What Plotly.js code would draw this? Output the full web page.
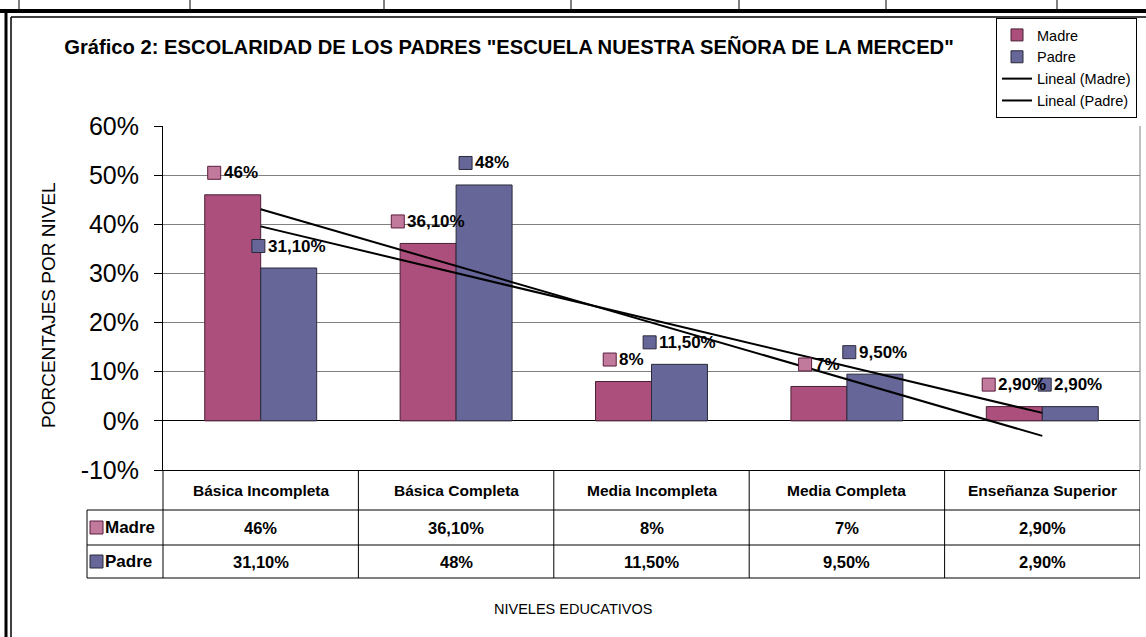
<!DOCTYPE html>
<html>
<head>
<meta charset="utf-8">
<script src="https://cdn.plot.ly/plotly-3.0.1.min.js"></script>
<style>html,body{margin:0;padding:0;background:#fff;}#chart{width:1146px;height:637px;}</style>
</head>
<body>
<div id="chart"></div>
<script>
// ---- data ----
const categorias = ['Básica Incompleta', 'Básica Completa', 'Media Incompleta', 'Media Completa', 'Enseñanza Superior'];
const madre = [46, 36.1, 8, 7, 2.9];
const padre = [31.1, 48, 11.5, 9.5, 2.9];
const serieNombres = ['Madre', 'Padre'];
const tendNombres = ['Lineal (Madre)', 'Lineal (Padre)'];
const yTickVals = [-10, 0, 10, 20, 30, 40, 50, 60];
const yTickText = ['-10%', '0%', '10%', '20%', '30%', '40%', '50%', '60%'];
const titulo = 'Gráfico 2: ESCOLARIDAD DE LOS PADRES "ESCUELA NUESTRA SEÑORA DE LA MERCED"';
const tituloY = 'PORCENTAJES POR NIVEL';
const tituloX = 'NIVELES EDUCATIVOS';

// ---- styles / geometry ----
const W = 1146, H = 637;
const PL = 163, PR = 1140, PT = 126, PB = 470;
const colMadre = '#AC4F7C', colPadre = '#666699';
const keyMadre = '#C27A9C', keyMadreLine = '#5a1d3c';
const keyPadre = '#666699', keyPadreLine = '#2a2a3a';
const SANS = '"Liberation Sans", Arial, sans-serif';
const BARGAP = 0.427;
const barW = (1 - BARGAP) / 2;
const SQ = 13, SQGAP = 3, LBL = 17, LIFT = 22;

const xp = x => (x - PL) / (PR - PL);
const yp = y => (PB - y) / (PB - PT);
const fmt = v => (Number.isInteger(v) ? String(v) : v.toFixed(2).replace('.', ',')) + '%';

const ctx = document.createElement('canvas').getContext('2d');
function textW(s, size) { ctx.font = 'bold ' + size + 'px "Liberation Sans", Arial, sans-serif'; return ctx.measureText(s).width; }

const xs = categorias.map((c, i) => i);

function linfit(vals) {
  const n = vals.length;
  const mx = xs.reduce((a, b) => a + b, 0) / n;
  const my = vals.reduce((a, b) => a + b, 0) / n;
  let sxy = 0, sxx = 0;
  xs.forEach((x, i) => { sxy += (x - mx) * (vals[i] - my); sxx += (x - mx) * (x - mx); });
  const m = sxy / sxx, b = my - m * mx;
  return xs.map(x => m * x + b);
}

const traces = [
  {type: 'bar', name: serieNombres[0], x: xs, y: madre, marker: {color: colMadre, line: {color: '#4a2035', width: 1}}, hoverinfo: 'skip'},
  {type: 'bar', name: serieNombres[1], x: xs, y: padre, marker: {color: colPadre, line: {color: '#2a2a3a', width: 1}}, hoverinfo: 'skip'},
  {type: 'scatter', mode: 'lines', name: tendNombres[0], x: xs, y: linfit(madre), line: {color: '#000', width: 2}, hoverinfo: 'skip'},
  {type: 'scatter', mode: 'lines', name: tendNombres[1], x: xs, y: linfit(padre), line: {color: '#000', width: 2}, hoverinfo: 'skip'}
];

// ---- shapes ----
const shapes = [];
function line(x0, y0, x1, y1, color, width, xref) {
  shapes.push({type: 'line', xref: xref || 'paper', yref: 'paper', x0: x0, x1: x1, y0: y0, y1: y1,
    line: {color: color, width: width}});
}
line(1, 0, 1, 1, '#808080', 1);
const rowY = [510, 545, 578];
rowY.forEach(y => line(xp(87), yp(y), 1, yp(y), '#000', 1));
line(xp(87), yp(510), xp(87), yp(578), '#000', 1);
line(0, 0, 0, yp(578), '#000', 1);
xs.forEach(i => line(i + 0.5, 0, i + 0.5, yp(578), '#000', 1, 'x'));
line(xp(0), yp(11), xp(W), yp(11), '#000', 4);
[19, 190, 384, 571, 739, 886, 1057].forEach(x => line(xp(x), yp(0), xp(x), yp(9), '#000', 1));
line(xp(6), yp(10), xp(6), yp(H), '#000', 3);
line(xp(11), yp(17), xp(11), yp(H), '#000', 1.5);
line(xp(11), yp(17), xp(W), yp(17), '#000', 1.5);

// ---- annotations ----
const ann = [];
const f = (s) => ({family: SANS, size: s, color: '#000'});

function dataLabel(xc, v, fill, stroke) {
  const s = fmt(v);
  const tw = textW(s, LBL);
  const left = -(SQ + SQGAP + tw) / 2;
  shapes.push({type: 'rect', xref: 'x', yref: 'y', xsizemode: 'pixel', ysizemode: 'pixel',
    xanchor: xc, yanchor: v, x0: left, x1: left + SQ, y0: LIFT - SQ / 2, y1: LIFT + SQ / 2,
    fillcolor: fill, line: {color: stroke, width: 1}, layer: 'above'});
  ann.push({xref: 'x', yref: 'y', x: xc, y: v, xanchor: 'left', yanchor: 'middle', xshift: left + SQ + SQGAP - 2, yshift: LIFT,
    text: '<b>' + s + '</b>', showarrow: false, font: f(LBL)});
}

categorias.forEach((c, i) => {
  ann.push({xref: 'x', yref: 'paper', x: i, y: yp(490), xanchor: 'center', yanchor: 'middle', text: '<b>' + c + '</b>', showarrow: false, font: f(15.5)});
  ann.push({xref: 'x', yref: 'paper', x: i, y: yp(527.5), xanchor: 'center', yanchor: 'middle', text: '<b>' + fmt(madre[i]) + '</b>', showarrow: false, font: f(16.5)});
  ann.push({xref: 'x', yref: 'paper', x: i, y: yp(561.5), xanchor: 'center', yanchor: 'middle', text: '<b>' + fmt(padre[i]) + '</b>', showarrow: false, font: f(16.5)});
  dataLabel(i - barW / 2, madre[i], keyMadre, keyMadreLine);
  dataLabel(i + barW / 2, padre[i], keyPadre, keyPadreLine);
});

// row keys of the table
[[527.5, keyMadre, keyMadreLine, serieNombres[0]], [561.5, keyPadre, keyPadreLine, serieNombres[1]]].forEach(r => {
  shapes.push({type: 'rect', xref: 'paper', yref: 'paper', x0: xp(90), x1: xp(103), y0: yp(r[0] + 6.5), y1: yp(r[0] - 6.5),
    fillcolor: r[1], line: {color: r[2], width: 1}});
  ann.push({xref: 'paper', yref: 'paper', x: xp(105), y: yp(r[0]), xanchor: 'left', yanchor: 'middle', xshift: -2, text: '<b>' + r[3] + '</b>',
    showarrow: false, font: f(17)});
});

ann.push({xref: 'paper', yref: 'paper', x: xp(573), y: yp(609), xanchor: 'center', yanchor: 'middle', text: tituloX, showarrow: false, font: f(14.5)});
ann.push({xref: 'paper', yref: 'paper', x: xp(48), y: yp(305), xanchor: 'center', yanchor: 'middle', text: tituloY, textangle: -90, showarrow: false, font: f(19)});

const layout = {
  width: W, height: H,
  margin: {l: PL, r: W - PR, t: PT, b: H - PB, pad: 0},
  paper_bgcolor: '#fff', plot_bgcolor: '#fff',
  title: {text: '<b>' + titulo + '</b>', xref: 'container', yref: 'container', x: 509 / W, y: 1 - 47 / H,
    xanchor: 'center', yanchor: 'middle', font: f(20.2)},
  barmode: 'group', bargap: BARGAP, bargroupgap: 0,
  showlegend: true,
  legend: {x: xp(996), y: yp(18), xanchor: 'left', yanchor: 'top', bgcolor: '#fff', bordercolor: '#000', borderwidth: 1,
    font: f(14.5), itemwidth: 30, tracegroupgap: 0, traceorder: 'normal'},
  xaxis: {range: [-0.5, 4.5], showticklabels: false, showgrid: false, zeroline: false, showline: true,
    linecolor: '#000', linewidth: 1, ticks: '', fixedrange: true},
  yaxis: {range: [-10, 60], tickvals: yTickVals, ticktext: yTickText, showgrid: true, gridcolor: '#808080', gridwidth: 1,
    zeroline: true, zerolinecolor: '#000', zerolinewidth: 1, showline: true, linecolor: '#000', linewidth: 1,
    ticks: 'outside', ticklen: 8, tickcolor: '#000', ticklabelstandoff: 10,
    tickfont: {family: SANS, size: 25, color: '#000'}, fixedrange: true},
  shapes: shapes,
  annotations: ann
};

Plotly.newPlot('chart', traces, layout, {staticPlot: true, displayModeBar: false});
</script>
</body>
</html>
